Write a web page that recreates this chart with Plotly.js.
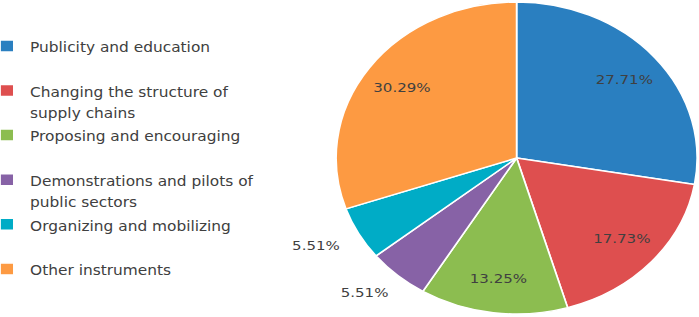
<!DOCTYPE html>
<html>
<head>
<meta charset="utf-8">
<script src="https://cdn.plot.ly/plotly-3.0.1.min.js"></script>
<style>
  html, body { margin: 0; padding: 0; background: #fff; overflow: hidden; }
  #chart { width: 604px; height: 317px; transform: scale(1.1573, 1); transform-origin: 0 0; }
</style>
</head>
<body>
<div id="chart"></div>
<script>
// Data
const categories = [
  "Publicity and education",
  "Changing the structure of<br>supply chains",
  "Proposing and encouraging",
  "Demonstrations and pilots of<br>public sectors",
  "Organizing and mobilizing",
  "Other instruments"
];
const shares = [27.71, 17.73, 13.25, 5.51, 5.51, 30.29];
const colors = ["#2a7fc0", "#de4f4f", "#8cbd50", "#8762a6", "#00acc6", "#fd9a42"];
const labelPositions = ["inside", "inside", "inside", "outside", "outside", "inside"];

// Legend entries: each padded to two lines so the entries are evenly spaced
const legendLabels = categories.map(function (c) {
  const parts = c.split("<br>");
  const lines = parts.map(function (p) { return '<span style="font-size:13.3px">' + p + '</span>'; });
  if (lines.length < 2) lines.push("&nbsp;");
  return lines.join("<br>");
});

// Label templates: the outside labels get padding so they sit a little away from the rim
const labelTemplates = labelPositions.map(function (p, i) {
  if (p === "inside") return "%{percent:.2%}";
  return i === 3 ? "&nbsp;<br>%{percent:.2%}" : "&nbsp;<br>%{percent:.2%}&nbsp;&nbsp;";
});

const W = 604, H = 317;
const cx = 446.4, cy = 158, R = 156;
const domain = { x: [(cx - R) / W, (cx + R) / W], y: [(H - cy - R) / H, (H - cy + R) / H] };
const labelFont = { family: "DejaVu Sans", size: 13, color: "#404040" };

// Slices
const slices = {
  type: "pie",
  labels: legendLabels,
  values: shares,
  sort: false,
  direction: "clockwise",
  rotation: 0,
  marker: { colors: colors, line: { color: "#ffffff", width: 1.5 } },
  textinfo: "none",
  hoverinfo: "none",
  domain: domain
};

// Percentage labels (same pie, transparent, ring layout keeps labels near the rim)
const labelsTrace = {
  type: "pie",
  labels: legendLabels,
  values: shares,
  sort: false,
  direction: "clockwise",
  rotation: 0,
  hole: 0.56,
  showlegend: false,
  marker: { colors: colors.map(function () { return "rgba(0,0,0,0)"; }), line: { width: 0 } },
  texttemplate: labelTemplates,
  textposition: labelPositions,
  insidetextorientation: "horizontal",
  insidetextfont: labelFont,
  outsidetextfont: labelFont,
  hoverinfo: "none",
  domain: domain
};

const layout = {
  width: W,
  height: H,
  margin: { l: 0, r: 0, t: 0, b: 0, autoexpand: false },
  paper_bgcolor: "#ffffff",
  showlegend: true,
  legend: {
    x: -14 / W,
    xanchor: "left",
    y: (H - 29) / H,
    yanchor: "top",
    valign: "top",
    font: { family: "DejaVu Sans", size: 16, color: "#404040" },
    bgcolor: "rgba(0,0,0,0)"
  }
};

Plotly.newPlot("chart", [slices, labelsTrace], layout, { displayModeBar: false, staticPlot: true });
</script>
</body>
</html>
